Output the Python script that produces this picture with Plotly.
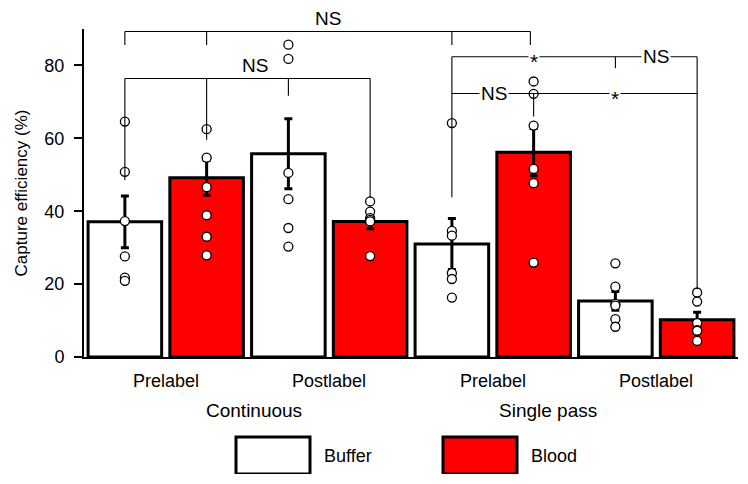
import plotly.graph_objects as go

# ---------------- data ----------------
group_labels = ["Prelabel", "Postlabel", "Prelabel", "Postlabel"]
mode_labels = ["Continuous", "Single pass"]
series_names = ["Buffer", "Blood"]

buffer_mean = [37.1, 55.8, 31.0, 15.4]
buffer_err = [7.1, 9.6, 7.0, 2.6]
blood_mean = [49.2, 37.2, 56.2, 10.2]
blood_err = [4.8, 2.0, 6.5, 2.1]

buffer_points = [
    [64.6, 50.8, 37.3, 27.6, 21.8, 20.9],
    [85.7, 81.8, 50.5, 43.3, 35.4, 30.3],
    [64.2, 34.6, 33.3, 23.0, 21.4, 16.3],
    [25.7, 19.3, 14.6, 14.1, 10.4, 8.3],
]
blood_points = [
    [62.5, 54.7, 46.6, 38.9, 33.0, 27.9],
    [42.7, 39.9, 38.1, 37.6, 37.2, 27.7],
    [75.6, 72.2, 63.5, 51.6, 47.7, 25.9],
    [17.7, 15.2, 9.3, 7.4, 7.2, 4.4],
]

# significance brackets (bar slot positions 1..8, values in %)
bracket_h = [(1, 5.96, 89.3), (1, 4, 76.4), (5, 8, 82.4), (5, 8, 72.3)]
bracket_drops = [
    (1, 89.3, 85.6), (2, 89.3, 85.6), (5, 89.3, 85.6), (5.96, 89.3, 85.6),
    (1, 76.4, 48.6), (2, 76.4, 59.6), (3, 76.4, 71.7), (4, 76.4, 43.6),
    (5, 82.4, 43.8), (7, 82.4, 79.2), (8, 82.4, 18.6), (6, 72.3, 66.0),
]
# (x, y, text, placement)
bracket_labels = [
    (3.48, 89.3, "NS", "above"),
    (2.59, 76.4, "NS", "above"),
    (6.0, 82.4, "*", "inline"),
    (7.5, 82.4, "NS", "inline"),
    (5.52, 72.3, "NS", "inline"),
    (7.0, 72.3, "*", "inline"),
]

# ---------------- layout constants ----------------
# page body has an 8px margin, so the figure is 16px smaller than the window
PAGE_OFF = 8
W, H = 732, 466
PL, PR, PT, PB = 84, 738, 29, 357          # plot area in window pixels
ML = PL - PAGE_OFF
MR = W - (PR - PAGE_OFF)
MT = PT - PAGE_OFF
MB = H - (PB - PAGE_OFF)
FONT = "Liberation Sans, Arial, Helvetica, sans-serif"
RED = "#ff0000"


def px2paper_x(px):
    return (px - PL) / (PR - PL)


def px2paper_y(py):
    return (PB - py) / (PB - PT)


buf_x = [2 * i + 1 for i in range(4)]
blood_x = [2 * i + 2 for i in range(4)]

fig = go.Figure()
fig.add_trace(go.Bar(
    x=buf_x, y=buffer_mean, width=0.9, name=series_names[0],
    marker=dict(color="white", line=dict(color="black", width=3)),
    error_y=dict(type="data", array=buffer_err, visible=True,
                 color="black", thickness=3, width=4),
))
fig.add_trace(go.Bar(
    x=blood_x, y=blood_mean, width=0.9, name=series_names[1],
    marker=dict(color=RED, line=dict(color="black", width=3)),
    error_y=dict(type="data", array=blood_err, visible=True,
                 color="black", thickness=3, width=4),
))

for xs, pts in ((buf_x, buffer_points), (blood_x, blood_points)):
    px_, py_ = [], []
    for x, vals in zip(xs, pts):
        for v in vals:
            px_.append(x)
            py_.append(v)
    fig.add_trace(go.Scatter(
        x=px_, y=py_, mode="markers", cliponaxis=False,
        marker=dict(size=9, color="white", line=dict(color="black", width=1.3)),
    ))

shapes = []
for x0, x1, y in bracket_h:
    shapes.append(dict(type="line", xref="x", yref="y", x0=x0, x1=x1, y0=y, y1=y,
                       line=dict(color="black", width=1.1), layer="above"))
for x, y0, y1 in bracket_drops:
    shapes.append(dict(type="line", xref="x", yref="y", x0=x, x1=x, y0=y0, y1=y1,
                       line=dict(color="black", width=1.1), layer="above"))

annotations = []
for x, y, t, place in bracket_labels:
    a = dict(x=x, y=y, xref="x", yref="y", text=t, showarrow=False,
             font=dict(family=FONT, size=19 if t == "NS" else 21, color="black"),
             xanchor="center")
    if place == "above":
        a.update(yanchor="bottom", yshift=2, borderpad=0)
    else:
        a.update(yanchor="middle", bgcolor="white", borderpad=1)
        if t == "*":
            a.update(yshift=-5, borderpad=1)
    annotations.append(a)

# group labels
for i, lab in enumerate(group_labels):
    annotations.append(dict(x=2 * i + 1.5, y=px2paper_y(381), xref="x", yref="paper",
                            text=lab, showarrow=False, xanchor="center", yanchor="middle",
                            font=dict(family=FONT, size=18, color="black")))
mode_px = [254, 548]
for lab, pxx in zip(mode_labels, mode_px):
    annotations.append(dict(x=px2paper_x(pxx), y=px2paper_y(410), xref="paper", yref="paper",
                            text=lab, showarrow=False, xanchor="center", yanchor="middle",
                            font=dict(family=FONT, size=19, color="black")))

# legend
leg_boxes = [(236, 310), (443, 517)]
leg_fill = ["white", RED]
for (bx0, bx1), fc, name in zip(leg_boxes, leg_fill, series_names):
    shapes.append(dict(type="rect", xref="paper", yref="paper",
                       x0=px2paper_x(bx0), x1=px2paper_x(bx1),
                       y0=px2paper_y(474), y1=px2paper_y(437),
                       fillcolor=fc, line=dict(color="black", width=3)))
    annotations.append(dict(x=px2paper_x(bx1 + 12), y=px2paper_y(456), xref="paper", yref="paper",
                            text=name, showarrow=False, xanchor="left", yanchor="middle",
                            font=dict(family=FONT, size=18, color="black")))

fig.update_layout(
    width=W, height=H,
    margin=dict(l=ML, r=MR, t=MT, b=MB, pad=0),
    paper_bgcolor="white", plot_bgcolor="white",
    barmode="overlay", showlegend=False,
    font=dict(family=FONT, size=17, color="black"),
    shapes=shapes, annotations=annotations,
    xaxis=dict(range=[0.5, 8.5], showgrid=False, zeroline=False,
               showline=True, linecolor="black", linewidth=2,
               showticklabels=False, ticks=""),
    yaxis=dict(range=[0, 90], showgrid=False, zeroline=False,
               showline=True, linecolor="black", linewidth=2,
               ticks="outside", ticklen=8, tickwidth=2, tickcolor="black",
               tickvals=[0, 20, 40, 60, 80], ticklabelstandoff=6,
               tickfont=dict(family=FONT, size=18),
               title=dict(text="Capture efficiency (%)", standoff=12,
                          font=dict(family=FONT, size=17))),
)

fig.write_html("out.html")
